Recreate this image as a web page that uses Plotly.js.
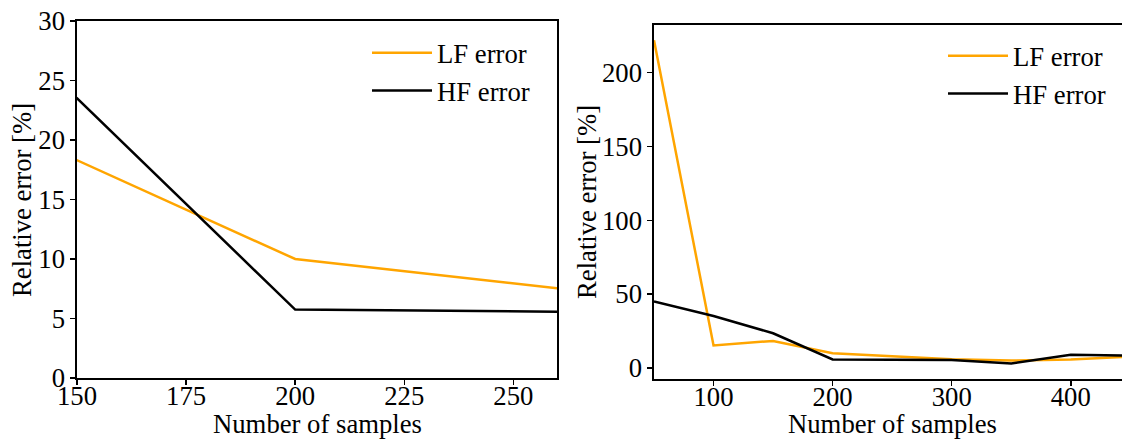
<!DOCTYPE html>
<html>
<head>
<meta charset="utf-8">
<script src="https://cdn.plot.ly/plotly-3.0.1.min.js"></script>
<style>
html,body{margin:0;padding:0;background:#fff;}
#chart{width:1122px;height:440px;}
</style>
</head>
<body>
<div id="chart"></div>
<script>
// Data (same runs shown on both panels with different x limits)
const samples = [50, 100, 150, 200, 300, 350, 400, 450];
const lfError = [222, 15.2, 18.3, 10.0, 5.9, 5.0, 5.7, 7.6];
const hfError = [45, 35.2, 23.5, 5.75, 5.45, 3.0, 8.9, 8.3];

const seriesNames = ["LF error", "HF error"];
const xTitle = "Number of samples";
const yTitle = "Relative error [%]";
const leftXTicks = [150, 175, 200, 225, 250];
const leftYTicks = [0, 5, 10, 15, 20, 25, 30];
const rightXTicks = [100, 200, 300, 400];
const rightYTicks = [0, 50, 100, 150, 200];

const FONT = "Liberation Serif";
const FS = 26.7;
const ORANGE = "#FFA500";
const LW = 2.5;

const traces = [
  {x: samples, y: lfError, name: seriesNames[0], mode: "lines", line: {color: ORANGE, width: LW}, xaxis: "x", yaxis: "y", legend: "legend"},
  {x: samples, y: hfError, name: seriesNames[1], mode: "lines", line: {color: "#000", width: LW}, xaxis: "x", yaxis: "y", legend: "legend"},
  {x: samples, y: lfError, name: seriesNames[0], mode: "lines", line: {color: ORANGE, width: LW}, xaxis: "x2", yaxis: "y2", legend: "legend2"},
  {x: samples, y: hfError, name: seriesNames[1], mode: "lines", line: {color: "#000", width: LW}, xaxis: "x2", yaxis: "y2", legend: "legend2"}
];

function axisBase(extra) {
  return Object.assign({
    showgrid: false, zeroline: false, showline: true, mirror: true,
    linecolor: "#000", linewidth: 1.6,
    ticks: "outside", ticklen: 5, tickwidth: 1.5, tickcolor: "#000",
    tickfont: {family: FONT, size: FS, color: "#000"},
    automargin: false
  }, extra);
}

const W = 1122, H = 440;
const titleFont = {family: FONT, size: FS, color: "#000"};
const layout = {
  width: W, height: H,
  margin: {l: 0, r: 0, t: 0, b: 0},
  paper_bgcolor: "#fff", plot_bgcolor: "#fff",
  font: {family: FONT, size: FS, color: "#000"},
  showlegend: true,
  xaxis: axisBase({
    domain: [77 / W, 557 / W], range: [150, 260], anchor: "y",
    tickvals: leftXTicks, ticklabelstandoff: -12
  }),
  yaxis: axisBase({
    domain: [1 - 378 / H, 1 - 21 / H], range: [0, 30], anchor: "x",
    tickvals: leftYTicks
  }),
  xaxis2: axisBase({
    domain: [654 / W, 1], range: [50, 443], anchor: "y2",
    tickvals: rightXTicks, ticklabelstandoff: -12
  }),
  yaxis2: axisBase({
    domain: [1 - 379.3 / H, 1 - 25 / H], range: [-7.7, 232.3], anchor: "x2",
    tickvals: rightYTicks
  }),
  annotations: [
    {text: xTitle, xref: "paper", yref: "paper", x: 317 / W, y: 1 - 424 / H, xanchor: "center", yanchor: "middle", showarrow: false, font: titleFont},
    {text: xTitle, xref: "paper", yref: "paper", x: 892 / W, y: 1 - 424 / H, xanchor: "center", yanchor: "middle", showarrow: false, font: titleFont},
    {text: yTitle, xref: "paper", yref: "paper", x: 22 / W, y: 1 - 200 / H, xanchor: "center", yanchor: "middle", textangle: -90, showarrow: false, font: titleFont},
    {text: yTitle, xref: "paper", yref: "paper", x: 587 / W, y: 1 - 202 / H, xanchor: "center", yanchor: "middle", textangle: -90, showarrow: false, font: titleFont}
  ],
  legend: {
    x: 367 / W, y: 1 - 29 / H, xanchor: "left", yanchor: "top",
    bgcolor: "rgba(0,0,0,0)", borderwidth: 0,
    font: {family: FONT, size: FS, color: "#000"},
    itemwidth: 60, tracegroupgap: 0
  },
  legend2: {
    x: 943 / W, y: 1 - 32 / H, xanchor: "left", yanchor: "top",
    bgcolor: "rgba(0,0,0,0)", borderwidth: 0,
    font: {family: FONT, size: FS, color: "#000"},
    itemwidth: 60, tracegroupgap: 0
  }
};

Plotly.newPlot("chart", traces, layout, {displayModeBar: false, staticPlot: true});
</script>
</body>
</html>
